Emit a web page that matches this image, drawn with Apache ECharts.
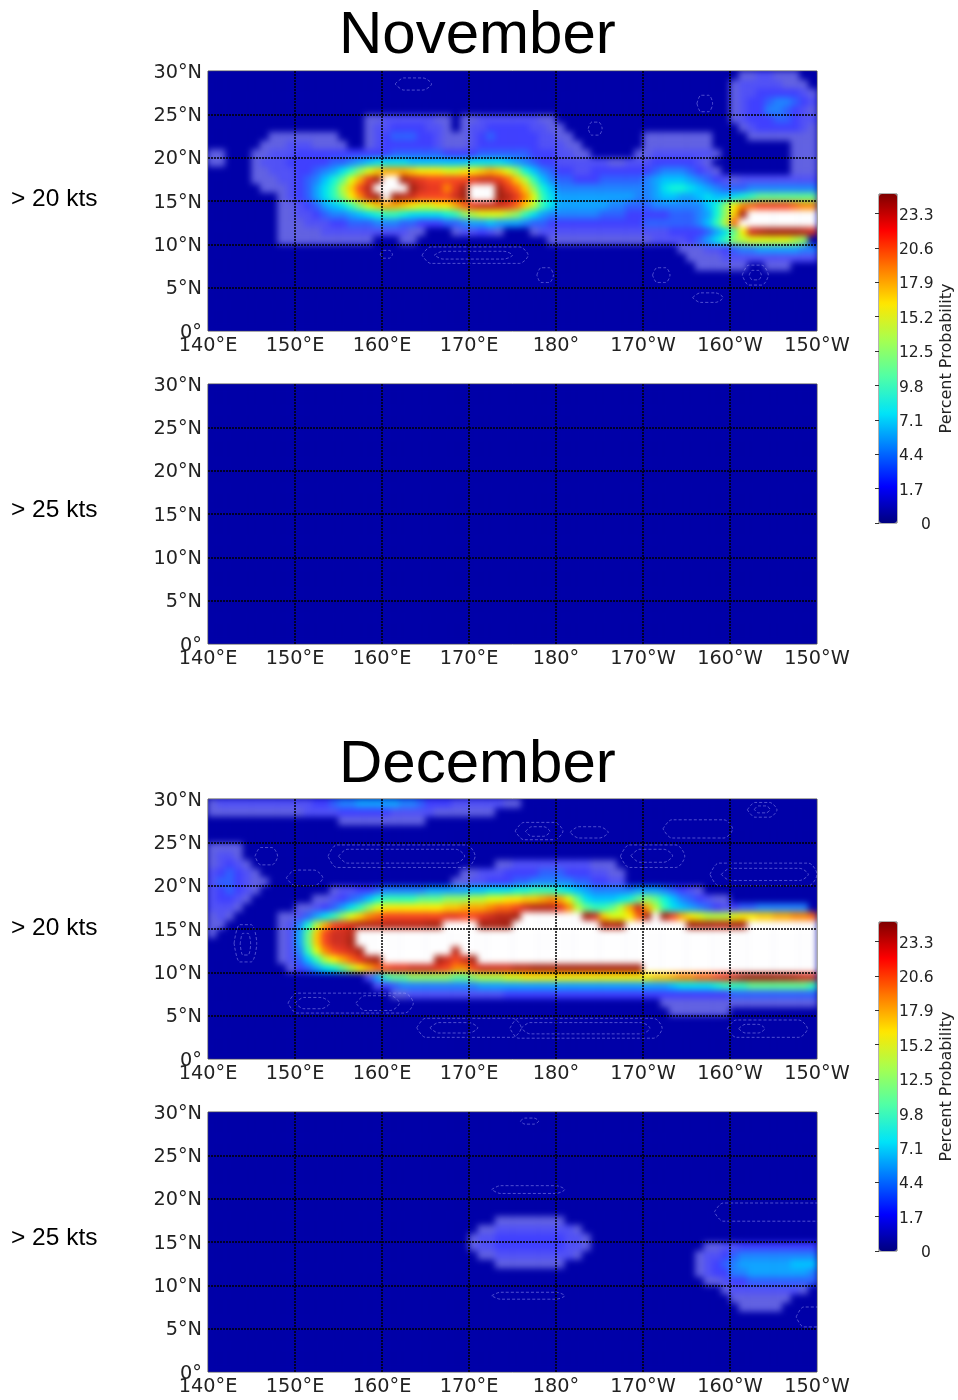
<!DOCTYPE html>
<html><head><meta charset="utf-8"><style>html,body{margin:0;padding:0;background:#fff}#c{width:958px;height:1400px}</style>
<script src="https://cdn.jsdelivr.net/npm/echarts@6/dist/echarts.min.js"></script></head>
<body><div id="c"></div>
<script>
// Axis labels
const xTickLabels=['140°E','150°E','160°E','170°E','180°','170°W','160°W','150°W'];
const yTickLabels=['0°','5°N','10°N','15°N','20°N','25°N','30°N'];
const colorbarTicks=['0','1.7','4.4','7.1','9.8','12.5','15.2','17.9','20.6','23.3'];
const panelTitles=['November','December'];
const windLabels=['> 20 kts','> 25 kts','> 20 kts','> 25 kts'];
// Percent probability per 1-degree cell: [lat,[startLon(deg E),v,v,...],...]; unlisted cells are 0; values over 25 are off-scale (white)
const nov20Rows=[
[29,[201,1,1,2,2,1,1,1]],
[28,[200,1,2,2,2,2,2,1,1,1]],
[27,[200,1,2,2,3,3,3,3,3,2,1]],
[26,[200,1,2,3,3,4,5,5,4,3,2]],
[25,[200,1,2,3,3,5,5,4,3,2,1]],
[24,[158,1,1,2,2,2,2,2,2,1,1],[169,1,1,2,2,2,2,2,2,2,1,1],[200,1,2,3,3,3,4,4,3,2,2]],
[23,[158,1,2,2,3,3,3,3,2,2,1],[169,1,2,2,3,3,3,3,3,2,2,1,1],[201,1,2,3,3,3,3,3,2,1]],
[22,[147,1,1,1,1,1,1,1,1],[158,1,2,3,4,4,4,3,3,2,1,1],[169,1,2,3,4,3,3,3,3,3,2,2,1,1],[190,1,1,1,1,1,1,1,1],[202,1,1,1,1,1],[207,1,1,1]],
[21,[146,1,1,1,2,2,2,1,1,1,1],[158,1,2,3,3,3,3,3,3,2,1,1],[169,1,2,3,3,3,3,3,3,3,2,2,2,1,1],[190,1,1,1,1,1,1,1,1],[207,1,1,1]],
[20,[140,1,1],[145,1,1,2,2,2,3,3,3,3,3,3,3,3,3,3,3,4,4,4,4,4,4,3,3,3,3,4,4,4,4,4,4,3,3,3,2,2,1,1],[189,1,1,2,2,2,2,2,2,2,1],[207,1,1,1]],
[19,[140,1,1],[145,1,2,2,2,3,3,3,3,3,4,4,5,6,7,8,8,8,8,7,7,7,7,7,7,7,8,8,8,8,7,6,5,4,3,3,2,2,2,2,2,2,1,1,2,2,2,3,3,3,3,3,2,1],[207,1,1,1]],
[18,[145,1,1,2,2,2,3,3,4,5,6,8,10,12,14,16,17,17,17,16,15,15,15,14,14,15,15,16,17,16,14,12,9,7,5,4,3,3,2,2,3,3,3,3,3,3,3,4,5,5,5,4,3,2,1],[207,1,1,1]],
[17,[145,1,1,1,2,2,3,4,5,7,9,11,14,17,21,24,30,30,24,22,21,20,20,20,20,20,21,22,22,21,19,16,13,10,7,5,4,4,3,3,3,4,4,4,4,4,5,6,7,7,7,6,5,4,3,2,1,2,2,2,2,2,2,2,2,2]],
[16,[146,1,1,1,2,3,4,6,8,10,13,16,20,23,30,30,30,30,25,22,21,21,18,21,24,30,30,30,24,21,19,16,12,9,7,5,5,5,5,5,5,5,5,5,5,5,6,8,9,9,8,7,6,5,4,4,4,5,5,5,5,5,5,5,5]],
[15,[148,1,2,3,4,6,8,10,12,15,18,22,25,30,25,23,22,20,20,20,20,22,25,30,30,30,25,23,21,18,14,10,8,6,6,6,6,6,6,6,6,6,5,5,6,7,7,6,6,7,8,7,7,8,9,10,11,11,11,11,11,11,11]],
[14,[148,1,1,2,3,4,6,7,8,10,12,14,16,17,17,16,15,14,14,15,15,17,19,21,22,22,22,21,19,16,13,10,8,6,6,6,6,6,6,5,5,4,4,4,5,5,5,5,5,5,7,9,12,15,18,19,20,20,20,20,19,18,18]],
[13,[148,1,1,2,2,3,4,5,5,6,7,8,9,10,10,9,8,8,8,8,9,10,12,13,14,14,14,13,12,10,8,6,5,5,5,5,5,5,4,4,4,3,3,3,3,3,4,4,4,5,6,9,12,16,24,30,30,30,30,30,30,30,30,30]],
[12,[148,1,1,1,2,2,2,3,3,4,4,4,5,5,5,4,4,3,3,3,4,4,5,6,6,7,6,6,6,5,4,4,3,3,3,3,3,3,3,3,3,3,3,4,4,4,4,4,4,5,7,10,13,19,30,30,30,30,30,30,30,30,30]],
[11,[148,1,1,1,1,1,2,2,2,2,2,2,2,2,2,2,1,1],[168,1,2,2,3,2,1],[177,1,2,2,2,2,2,2,2,2,2,2,2,2,2,2,2,3,3,3,3,4,6,8,11,15,22,23,24,24,24,24,23,22,20]],
[10,[148,1,1,1,1,1,1,1,1,1,1,1],[162,1,1],[179,1,1,1,1,1,1,1,1,1,1,1,1,2,2,2,2,3,4,6,8,10,12,13,14,14,14,14,14,13,12]],
[9,[194,1,1,1,2,2,3,4,5,5,6,6,6,6,6,5,5]],
[8,[195,1,1,1,1,2,2,2,2,2,2,2,2,2,2,2]],
[7,[196,1,1,1,1,1,1],[204,1,1,1]]
];
const nov25Rows=[];
const dec20Rows=[
[29,[140,1,2,2,2,2,2,2,2,2,2,2,2,3,3,4,5,5,6,6,6,6,6,5,5,4,3,3,3,2,2,2,2,2,2,1,1]],
[28,[140,1,1,1,1,1,1,1,1,1,1,1,2,2,2,2,3,3,3,3,3,3,2,2,2,2,2,1,1,1,1,1,1,1]],
[27,[155,1,1,1,1,1,1,1,1,1,1]],
[24,[140,1,1,1,1]],
[23,[140,1,2,2,1]],
[22,[140,1,2,3,2,1],[173,1,1,2,2,2,2,2,2,2,2,2,1,1,1]],
[21,[140,2,3,4,3,2,1],[169,1,1,2,2,2,3,3,3,3,4,4,4,3,3,3,2,2,1,1]],
[20,[140,2,4,4,3,2,1,1],[168,1,1,2,2,3,3,3,4,4,5,5,5,5,5,4,4,3,3,2,2]],
[19,[140,2,3,4,3,2,1],[154,1,2,2,3,3,4,5,5,5,5,5,6,6,6,6,6,7,7,8,8,8,9,9,10,10,10,9,8,7,6,5,5,5,5,5,6,6,6,5,4,3,2,1]],
[18,[140,2,3,3,2,1],[152,1,1,2,3,4,5,7,9,10,10,10,10,11,11,11,12,12,12,13,13,14,14,15,15,16,16,17,18,17,14,11,8,7,7,7,8,9,11,12,11,9,7,5,4,3,2,1,1]],
[17,[140,2,2,2,1],[150,1,1,2,3,4,6,8,10,12,14,15,15,15,15,15,15,15,16,16,17,17,17,18,19,19,20,22,23,23,23,21,18,13,11,10,10,11,13,17,22,17,13,10,8,7,6,5,4,3,2,3,4,4,5,5,5,5,5,5]],
[16,[140,1,2,1],[148,1,1,2,4,6,8,10,12,14,16,18,19,20,20,20,20,20,20,20,21,21,20,20,21,22,23,23,24,30,30,30,30,30,30,30,24,22,16,14,14,15,19,24,30,24,20,17,15,14,13,13,13,14,15,15,16,16,17,17,18,18,19,20]],
[15,[140,1,1],[148,1,2,5,9,13,17,20,21,22,23,23,23,23,23,23,23,23,24,24,30,30,30,30,25,24,24,25,30,30,30,30,30,30,30,30,30,30,24,23,24,30,30,30,30,30,30,30,25,24,24,23,23,24,24,30,30,30,30,30,30,30,30,30,30,30]],
[14,[140,1],[148,1,2,6,11,16,20,22,22,23,30,30,30,30,30,30,30,30,30,30,30,30,30,30,30,30,30,30,30,30,30,30,30,30,30,30,30,30,30,30,30,30,30,30,30,30,30,30,30,30,30,30,30,30,30,30,30,30,30,30,30,30,30,30,30]],
[13,[148,1,2,6,11,16,20,22,22,24,30,30,30,30,30,30,30,30,30,30,30,30,30,30,30,30,30,30,30,30,30,30,30,30,30,30,30,30,30,30,30,30,30,30,30,30,30,30,30,30,30,30,30,30,30,30,30,30,30,30,30,30,30,30,30]],
[12,[148,1,2,5,10,14,18,20,21,22,24,30,30,30,30,30,30,30,30,30,30,23,30,30,30,30,30,30,30,30,30,30,30,30,30,30,30,30,30,30,30,30,30,30,30,30,30,30,30,30,30,30,30,30,30,30,30,30,30,30,30,30,30,30,30]],
[11,[148,1,2,4,7,10,13,15,17,19,21,23,24,30,30,30,30,30,30,24,22,20,22,24,30,30,30,30,30,30,30,30,30,30,30,30,30,30,30,30,30,30,30,30,30,30,30,30,30,30,30,30,30,30,30,30,30,30,30,30,30,30,30,30,30]],
[10,[149,1,3,4,6,8,9,11,13,15,17,19,20,21,21,22,22,22,21,20,18,18,20,22,22,22,22,23,23,24,24,24,24,24,24,24,24,24,24,24,24,24,30,30,30,30,30,30,30,30,30,30,30,30,30,30,30,30,30,30,30,30,30,30]],
[9,[158,2,6,10,11,11,12,12,12,12,12,11,11,12,13,13,13,14,14,15,15,15,15,15,15,15,15,15,15,15,15,15,15,15,16,16,17,18,18,19,19,20,21,22,24,25,25,25,24,24,23,22,22]],
[8,[159,2,3,4,5,5,5,5,5,5,5,5,5,6,6,6,6,6,6,6,6,6,6,6,6,6,6,6,6,6,6,6,6,6,6,7,8,8,8,8,9,10,10,10,11,11,11,11,11,11,11,10,10]],
[7,[161,1,1,2,2,2,2,2,2,2,2,2,2,2,3,3,3,3,3,3,3,3,3,3,3,3,3,3,3,3,3,3,3,3,3,3,3,3,3,3,4,4,4,4,4,4,4,4,4,4]],
[6,[192,1,1,1,1,1,1,1,1,1,1,1,1,1,1,1,1,1,1]],
[5,[193,1,1,1,1,1,1,1]]
];
const dec25Rows=[
[17,[173,1,1,1,1,1,1,1,1]],
[16,[171,1,1,2,2,2,2,2,2,2,2,2,1]],
[15,[170,1,2,2,3,3,3,3,3,3,3,3,2,2,1]],
[14,[170,1,2,2,3,3,3,3,3,3,3,3,2,2,1],[197,1,1,2,2,3,3,3,3,3,3,3,3,3]],
[13,[171,1,1,2,2,2,2,2,2,2,2,2,1],[196,1,2,2,3,4,5,5,5,5,5,5,5,5,5]],
[12,[173,1,1,1,1,1,1,1,1],[196,1,2,3,4,5,6,6,6,6,6,6,7,7,7]],
[11,[196,1,2,3,3,5,5,6,6,6,6,6,6,6,5]],
[10,[197,1,1,2,3,3,4,4,4,4,4,4,4,4]],
[9,[199,1,2,2,2,2,2,2,2,2,1]],
[8,[200,1,1,1,1,1,1,1]],
[7,[201,1,1,1,1,1]]
];
// Faint contour rings: [lonMin,latMin,lonMax,latMax] in degrees
const nov20Rings=[[161.5,27.8,165.7,29.2],[159.8,8.4,161.2,9.3],[164.6,7.8,176.8,9.7],[166,8.3,175,9.2],[183.7,22.6,185.3,24.1],[196.2,25.3,198,27.2],[177.8,5.6,179.7,7.3],[191.1,5.6,193.1,7.3],[201.4,5.3,204.4,7.6],[202.2,5.9,203.6,7],[195.7,3.3,199.2,4.4]];
const nov25Rings=[];
const dec20Rings=[[145.4,22.4,148,24.4],[153.8,22.1,170.7,24.7],[155,22.6,169.5,24.2],[149,20,153.2,21.8],[143,11.2,145.6,15.5],[143.7,12,144.9,14.5],[149.2,5.3,163.6,7.6],[150,5.8,154,7.1],[157,5.6,162,7.3],[164,2.5,176,4.7],[165.5,3,171,4.2],[174.7,2.4,192.2,4.7],[176,2.9,190.8,4.2],[175.3,25.3,180.8,27.3],[176.5,25.7,179.3,26.8],[181.6,25.5,186,26.8],[192.3,25.5,200.3,27.6],[187.4,22.1,194.8,24.7],[188.6,22.7,193.4,24.2],[197.7,20,210,22.6],[199,20.6,209,22],[202,27.9,205.4,29.6],[202.8,28.4,204.6,29.2],[199.7,2.5,208.9,4.5],[201,3,204,4]];
const dec25Rings=[[175.9,28.6,178,29.3],[172.6,20.6,181,21.5],[172.6,8.4,181,9.2],[198.2,17.4,211,19.5],[207.6,5.2,211,7.5]];
// Colour scales
const heatColors=['#0000a8','#6262e2','#5252f6','#4040ff','#2e62ff','#2084ff','#10a4ff','#00c4ff','#00e2f0','#10f8d8','#30ffb8','#60ff90','#90ff60','#b8ff38','#e0ff10','#ffee00','#ffcc00','#ffaa00','#ff8800','#ff6610','#f84820','#e83820','#d03020','#b82818','#a82414','#a02010','#a02010'];
const jetColors=['#00007f','#0000ff','#0072ff','#00e4f8','#50ffa6','#a6ff50','#ffe600','#ff7700','#ff0000','#7f0000'];

const lonCells=[],latCells=[];
for(let i=0;i<70;i++)lonCells.push(String(140+i));
for(let j=0;j<30;j++)latCells.push(String(j));
function cells(rows){
  const g=latCells.map(()=>lonCells.map(()=>0));
  rows.forEach(r=>r.slice(1).forEach(s=>s.slice(1).forEach((v,k)=>{const i=s[0]-140+k;if(i<70)g[r[0]][i]=v;})));
  const out=[];g.forEach((row,j)=>row.forEach((v,i)=>out.push([i,j,v])));return out;
}
function ring(b){const dx=Math.min(1,(b[2]-b[0])/4),my=(b[1]+b[3])/2;
  return [[b[0],my],[b[0]+dx,b[3]],[b[2]-dx,b[3]],[b[2],my],[b[2]-dx,b[1]],[b[0]+dx,b[1]],[b[0],my]];}

const tops=[71,384,799,1112],gridLeft=208,gridW=609,gridH=260;
const rowsAll=[nov20Rows,nov25Rows,dec20Rows,dec25Rows],ringsAll=[nov20Rings,nov25Rings,dec20Rings,dec25Rings];
const labelColor='#222',fontD='DejaVu Sans';
const grid=[],xAxis=[],yAxis=[],series=[];
tops.forEach((t,p)=>{
  grid.push({left:gridLeft,top:t,width:gridW,height:gridH,show:true,backgroundColor:'#0000a8',borderColor:'#555',borderWidth:1});
  xAxis.push({type:'category',gridIndex:p,data:lonCells,show:false});
  xAxis.push({type:'value',gridIndex:p,min:140,max:210,interval:10,position:'bottom',z:5,zlevel:2,
    axisLine:{show:false},axisTick:{show:false},
    axisLabel:{color:labelColor,fontFamily:fontD,fontSize:19.3,margin:5,showMinLabel:true,showMaxLabel:true,formatter:v=>xTickLabels[(v-140)/10]||''},
    splitLine:{show:true,showMinLine:false,showMaxLine:false,lineStyle:{color:'#000',width:1.5,type:[2,1]}}});
  yAxis.push({type:'category',gridIndex:p,data:latCells,show:false});
  yAxis.push({type:'value',gridIndex:p,min:0,max:30,interval:5,position:'left',z:5,zlevel:2,
    axisLine:{show:false},axisTick:{show:false},
    axisLabel:{margin:6,showMinLabel:true,showMaxLabel:true,formatter:v=>'{a|'+(yTickLabels[v/5]||'')+'}',
      rich:{a:{color:labelColor,fontFamily:fontD,fontSize:19.3,padding:[3,0,0,0]}}},
    splitLine:{show:true,showMinLine:false,showMaxLine:false,lineStyle:{color:'#000',width:1.5,type:[2,1]}}});
  series.push({type:'heatmap',xAxisIndex:2*p,yAxisIndex:2*p,data:cells(rowsAll[p]),silent:true,z:1,zlevel:1,progressive:0,emphasis:{disabled:true}});
});
tops.forEach((t,p)=>ringsAll[p].forEach(b=>series.push({type:'line',xAxisIndex:2*p+1,yAxisIndex:2*p+1,data:ring(b),smooth:0.3,showSymbol:false,silent:true,z:3,zlevel:2,clip:true,
  lineStyle:{color:'rgba(175,175,255,0.45)',width:1,type:[3,2]}})));
const barTops=[194,922];
const visualMap=[{type:'continuous',show:false,min:0,max:26,range:[0,25.5],dimension:2,seriesIndex:[0,1,2,3],inRange:{color:heatColors},outOfRange:{color:'#ffffff'}}];
barTops.forEach((t,b)=>{
  const gi=4+b;
  grid.push({left:879,top:t,width:18,height:329,show:true,backgroundColor:'transparent',borderColor:'#666',borderWidth:1});
  xAxis.push({type:'value',gridIndex:gi,show:false,min:0,max:1});
  yAxis.push({type:'value',gridIndex:gi,position:'right',min:0,max:9.57,interval:1,z:5,
    axisLine:{show:false},axisTick:{show:true,inside:true,length:4,lineStyle:{color:'#333',width:1}},splitLine:{show:false},
    axisLabel:{margin:2,showMinLabel:true,showMaxLabel:false,formatter:v=>v===0?'{z|'+colorbarTicks[0]+'}':'{a|'+(colorbarTicks[v]||'')+'}',
      rich:{a:{color:labelColor,fontFamily:fontD,fontSize:15.5,padding:[4,0,0,0]},z:{color:labelColor,fontFamily:fontD,fontSize:15.5,padding:[4,0,0,22]}}},
    name:'Percent Probability',nameLocation:'middle',nameRotate:90,nameGap:42,nameTextStyle:{color:labelColor,fontFamily:fontD,fontSize:16}});
  series.push({type:'line',xAxisIndex:8+b,yAxisIndex:8+b,data:[],silent:true});
  visualMap.push({type:'continuous',show:true,seriesIndex:[series.length-1],min:0,max:25,calculable:false,hoverLink:false,realtime:false,left:879,top:t,itemWidth:18,itemHeight:329,padding:0,text:null,showLabel:false,inRange:{color:jetColors}});
});
const titleStyle={color:'#000',fontFamily:'Liberation Sans',fontSize:60,fontWeight:'normal'};
const sideStyle={color:'#000',fontFamily:'Liberation Sans',fontSize:24.5,fontWeight:'normal'};
const title=[
 {text:panelTitles[0],left:339,top:6,padding:0,textStyle:titleStyle},
 {text:panelTitles[1],left:339,top:735,padding:0,textStyle:titleStyle},
 {text:windLabels[0],left:11,top:187,padding:0,textStyle:sideStyle},
 {text:windLabels[1],left:11,top:498,padding:0,textStyle:sideStyle},
 {text:windLabels[2],left:11,top:916,padding:0,textStyle:sideStyle},
 {text:windLabels[3],left:11,top:1226,padding:0,textStyle:sideStyle}
];
const chart=echarts.init(document.getElementById('c'),null,{renderer:'canvas'});
chart.setOption({animation:false,backgroundColor:'#fff',tooltip:{show:false},title,grid,xAxis,yAxis,visualMap,series});
// Soften the 1-degree cells on the heatmap layer only, kept inside the four plot frames (the reference is a smooth contour fill)
function softenHeatLayer(){
  const layer=chart.getDom().querySelector('canvas[data-zr-dom-id="zr_1"]');
  if(!layer)return;
  layer.style.filter='blur(3px)';
  layer.style.clipPath="path('"+tops.map(t=>'M'+gridLeft+' '+t+'h'+gridW+'v'+gridH+'h-'+gridW+'z').join(' ')+"')";
}
softenHeatLayer();
chart.on('finished',softenHeatLayer);
</script></body></html>
